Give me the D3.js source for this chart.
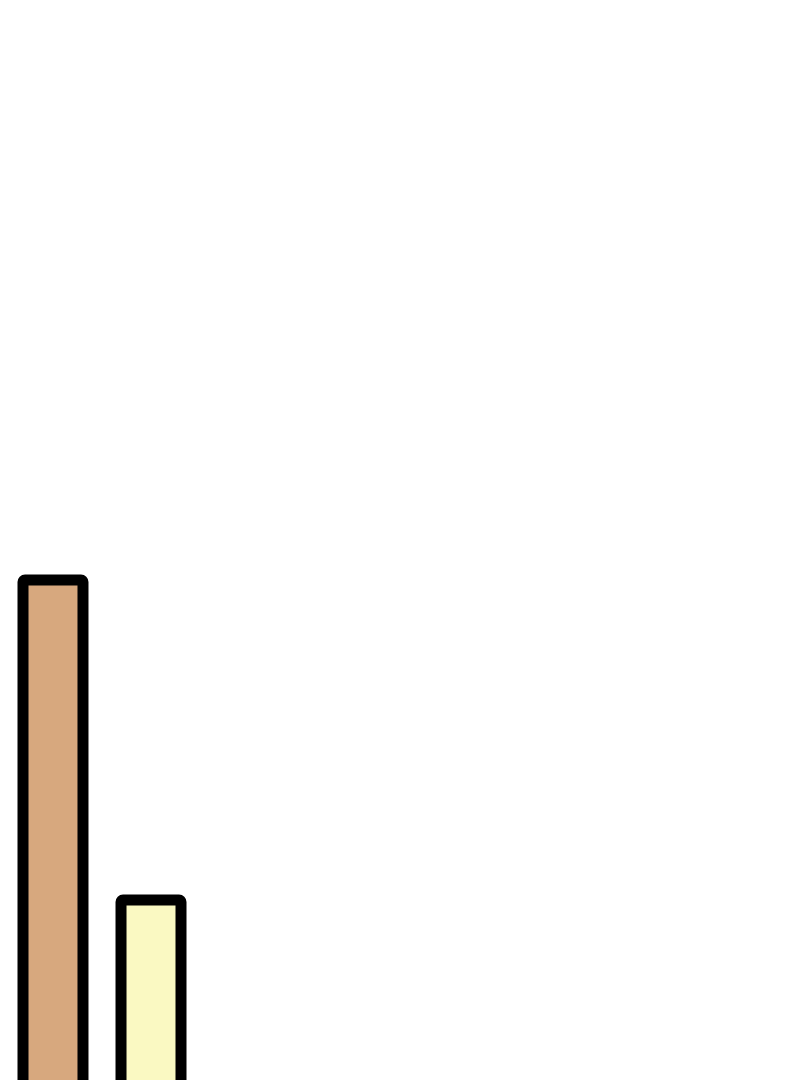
<!DOCTYPE html>
<html>
<head>
<meta charset="utf-8">
<script src="https://cdn.jsdelivr.net/npm/d3@7"></script>
<style>
  html, body { margin: 0; padding: 0; background: #fff; }
  svg { display: block; }
</style>
</head>
<body>
<svg id="chart"></svg>
<script>
const categories = ["A", "B"];
const values = [620, 300];
const colors = ["#D7A87E", "#FAF9C2"];

const width = 800, height = 1080;

const svg = d3.select("#chart")
    .attr("width", width)
    .attr("height", height);

// baseline sits below the visible frame, the bars are cut off at the bottom
const x = d3.scaleBand().domain(categories).range([23, 181]).paddingInner(0.388).paddingOuter(0);
const y = d3.scaleLinear().domain([0, 620]).range([1200, 580]);

svg.append("g")
  .selectAll("rect")
  .data(categories)
  .join("rect")
    .attr("x", d => x(d))
    .attr("y", (d, i) => y(values[i]))
    .attr("width", x.bandwidth())
    .attr("height", (d, i) => y(0) - y(values[i]))
    .attr("rx", 2)
    .attr("fill", (d, i) => colors[i])
    .attr("stroke", "#000")
    .attr("stroke-width", 11)
    .attr("stroke-linejoin", "round");
</script>
</body>
</html>
